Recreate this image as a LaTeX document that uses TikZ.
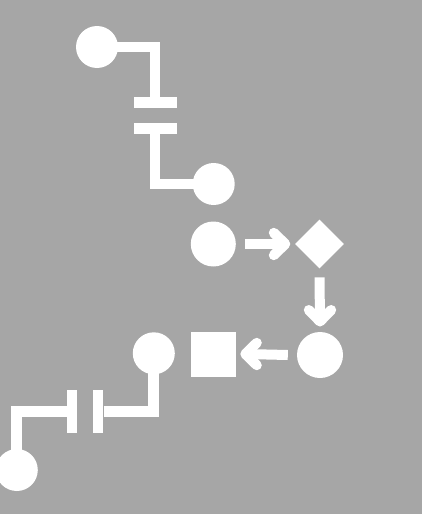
\documentclass[tikz,border=0pt]{standalone}
\usetikzlibrary{shapes.geometric,calc}
\definecolor{bg}{RGB}{166,166,166}
\begin{document}
\begin{tikzpicture}[x=1pt,y=-1pt,
  dot/.style={circle,fill=white,draw=none,inner sep=0pt,minimum size=#1},
  hplate/.style={rectangle,fill=white,inner sep=0pt,minimum width=43pt,minimum height=10.4pt},
  vplate/.style={rectangle,fill=white,inner sep=0pt,minimum width=10.6pt,minimum height=43pt},
  wire/.style={draw=white,line width=10.8pt,line join=miter},
  flow/.style={draw=white,line width=10pt},
  chev/.style={draw=white,line width=10pt,line cap=round,line join=round}]
\fill[bg] (0,0) rectangle (422,514);
\useasboundingbox (0,0) rectangle (422,514);
% nodes
\node[dot=42pt] (c1) at (97,47) {};
\node[hplate] (p1) at (155,102.5) {};
\node[hplate] (p2) at (155,128.3) {};
\node[dot=42pt] (c2) at (213.7,184) {};
\node[dot=45pt] (c3) at (213.3,244) {};
\node[diamond,fill=white,inner sep=0pt,minimum size=49pt] (d1) at (319.5,244) {};
\node[dot=46pt] (c4) at (320,355) {};
\node[rectangle,fill=white,inner sep=0pt,minimum size=45pt] (s1) at (213.3,354) {};
\node[dot=42pt] (c5) at (153.8,353.3) {};
\node[vplate] (p3) at (98,411.5) {};
\node[vplate] (p4) at (72,411.5) {};
\node[dot=42pt] (c6) at (16.8,470) {};
% wires
\draw[wire] (c1.center) -| (p1.north);
\draw[wire] (p2.south) |- (c2.center);
\draw[wire] (c5.center) |- (p3.east);
\draw[wire] (p4.west) -| (c6.center);
% arrows
\draw[flow] ($(c3.east)+(9,0)$) -- ($(d1.west)+(-9.5,0)$);
\draw[chev] ($(d1.west)+(-21,-11.2)$) -- ($(d1.west)+(-9.5,0)$) -- ($(d1.west)+(-21,11.2)$);
\draw[flow] ($(d1.south)+(0,8.7)$) -- ($(c4.north)+(0,-10.3)$);
\draw[chev] ($(c4.north)+(-11.2,-21.8)$) -- ($(c4.north)+(0,-10.3)$) -- ($(c4.north)+(11.2,-21.8)$);
\draw[flow] ($(c4.west)+(-9,0)$) -- ($(s1.east)+(9.3,0)$);
\draw[chev] ($(s1.east)+(20.8,-11.2)$) -- ($(s1.east)+(9.3,0)$) -- ($(s1.east)+(20.8,11.2)$);
\end{tikzpicture}
\end{document}
